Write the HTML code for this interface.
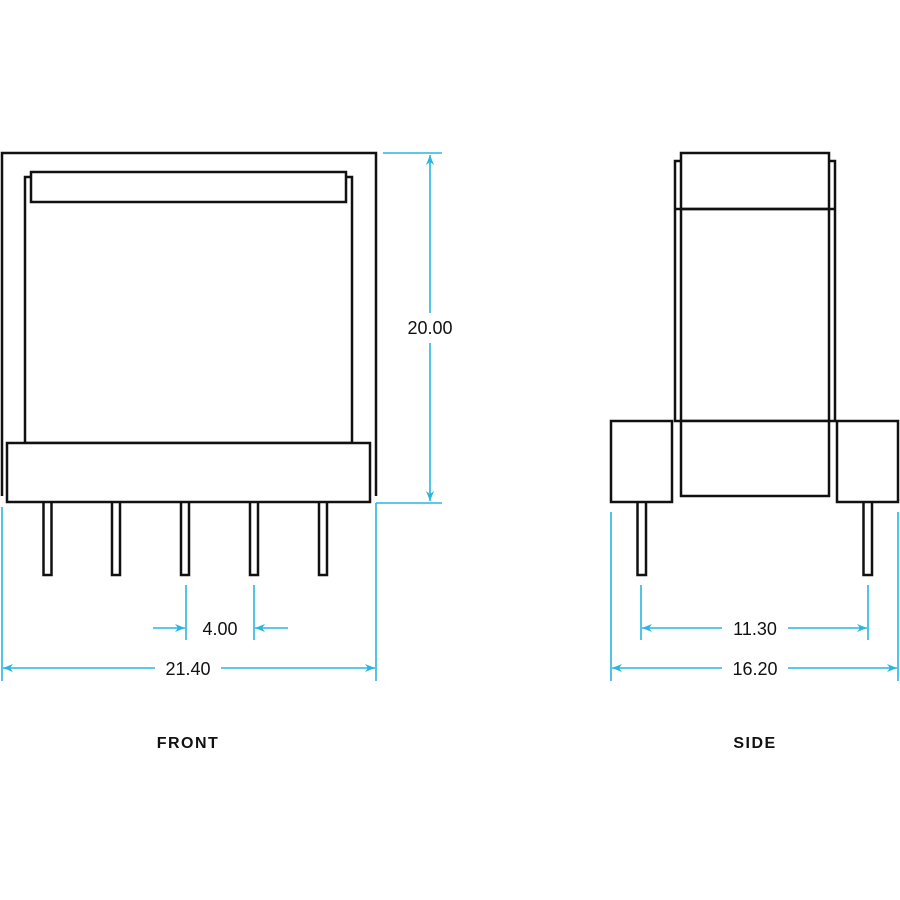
<!DOCTYPE html>
<html><head><meta charset="utf-8"><style>html,body{margin:0;padding:0;background:#fff}svg{display:block}</style></head>
<body>
<svg width="900" height="900" viewBox="0 0 900 900" xmlns="http://www.w3.org/2000/svg">
<defs>
<marker id="a" viewBox="0 0 10 10" refX="10" refY="5" markerWidth="14" markerHeight="10" markerUnits="userSpaceOnUse" orient="auto-start-reverse">
<path d="M0,1 L10,5 L0,9 L3,5 Z" fill="#29b6e0"/></marker>
</defs>
<g fill="#fff" stroke="#111" stroke-width="2.5">
<path d="M2,496 L2,153 L376,153 L376,496" fill="none"/>
<rect x="25" y="177" width="327" height="266"/>
<rect x="31" y="172" width="315" height="30"/>
<rect x="43.5" y="500" width="8" height="75"/>
<rect x="112" y="500" width="8" height="75"/>
<rect x="181" y="500" width="8" height="75"/>
<rect x="250" y="500" width="8" height="75"/>
<rect x="319" y="500" width="8" height="75"/>
<rect x="7" y="443" width="363" height="59"/>
<rect x="675" y="161" width="160" height="260"/>
<rect x="681" y="153" width="148" height="56"/>
<line x1="675" y1="209" x2="835" y2="209"/>
<line x1="681" y1="209" x2="681" y2="421"/>
<line x1="829" y1="209" x2="829" y2="421"/>
<rect x="681" y="421" width="148" height="75"/>
<rect x="637.5" y="499" width="8.5" height="76"/>
<rect x="863.5" y="499" width="8.5" height="76"/>
<rect x="611" y="421" width="61" height="81"/>
<rect x="837" y="421" width="61" height="81"/>
</g>
<g stroke="#29b6e0" stroke-width="1.6" fill="none">
<line x1="383" y1="153" x2="442" y2="153"/>
<line x1="376" y1="503" x2="442" y2="503"/>
<line x1="430" y1="155" x2="430" y2="313" marker-start="url(#a)"/>
<line x1="430" y1="343" x2="430" y2="501" marker-end="url(#a)"/>
<line x1="376" y1="503" x2="376" y2="681"/>
<line x1="2" y1="507" x2="2" y2="681"/>
<line x1="186" y1="585" x2="186" y2="640"/>
<line x1="254" y1="585" x2="254" y2="640"/>
<line x1="153" y1="628" x2="185" y2="628" marker-end="url(#a)"/>
<line x1="288" y1="628" x2="255" y2="628" marker-end="url(#a)"/>
<line x1="3" y1="668" x2="155" y2="668" marker-start="url(#a)"/>
<line x1="221" y1="668" x2="375" y2="668" marker-end="url(#a)"/>
<line x1="641" y1="585" x2="641" y2="640"/>
<line x1="868" y1="585" x2="868" y2="640"/>
<line x1="642" y1="628" x2="722" y2="628" marker-start="url(#a)"/>
<line x1="788" y1="628" x2="867" y2="628" marker-end="url(#a)"/>
<line x1="611" y1="512" x2="611" y2="681"/>
<line x1="898" y1="512" x2="898" y2="681"/>
<line x1="612" y1="668" x2="722" y2="668" marker-start="url(#a)"/>
<line x1="788" y1="668" x2="897" y2="668" marker-end="url(#a)"/>
</g>
<g font-family="Liberation Sans, sans-serif" font-size="18" fill="#111" text-anchor="middle">
<text x="430" y="334">20.00</text>
<text x="220" y="635">4.00</text>
<text x="188" y="675">21.40</text>
<text x="755" y="635">11.30</text>
<text x="755" y="675">16.20</text>
<text x="188" y="748" font-size="16" font-weight="bold" letter-spacing="1.5">FRONT</text>
<text x="755" y="748" font-size="16" font-weight="bold" letter-spacing="1.5">SIDE</text>
</g>
</svg>
</body></html>
